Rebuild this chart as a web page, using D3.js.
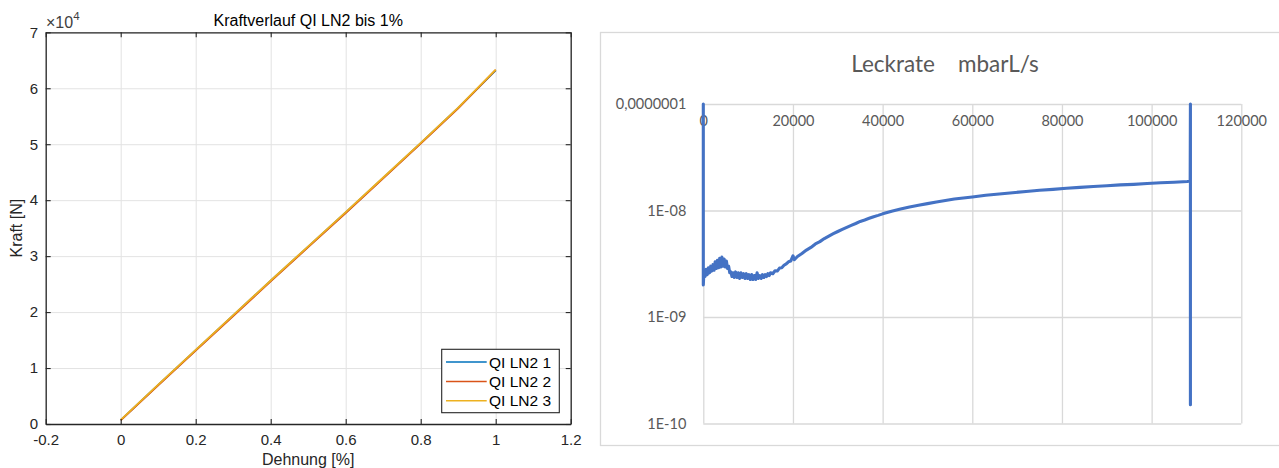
<!DOCTYPE html>
<html><head><meta charset="utf-8">
<script src="https://cdn.jsdelivr.net/npm/d3@7"></script>
<style>body{margin:0;background:#fff;} svg{display:block;}</style>
</head><body>
<svg id="c" width="1279" height="468"></svg>
<script>
// ---------- Left chart data (MATLAB) ----------
const strain = [0, 0.1, 0.2, 0.3, 0.4, 0.5, 0.6, 0.7, 0.8, 0.9, 1.0];
const forceQI1 = [700, 7000, 13200, 19400, 25600, 31700, 37800, 44000, 50200, 56500, 63200];
const forceQI2 = [650, 6900, 13100, 19300, 25500, 31600, 37700, 43900, 50100, 56400, 63300];
const forceQI3 = [750, 7050, 13250, 19450, 25650, 31750, 37850, 44050, 50250, 56550, 63350];
const seriesNames = ["QI LN2 1", "QI LN2 2", "QI LN2 3"];
const leftXTicks = [-0.2, 0, 0.2, 0.4, 0.6, 0.8, 1.0, 1.2];
const leftXTickLabels = ["-0.2", "0", "0.2", "0.4", "0.6", "0.8", "1", "1.2"];
const leftYTicks = [0, 10000, 20000, 30000, 40000, 50000, 60000, 70000];
const leftYTickLabels = ["0", "1", "2", "3", "4", "5", "6", "7"];

// ---------- Right chart data (Excel) ----------
const leakPoints = [
 [0,1e-7],[0,2.0e-9],[150,2.7e-9],[400,2.4e-9],[650,2.8e-9],[900,2.5e-9],[1150,2.9e-9],[1400,2.6e-9],
 [1650,3.0e-9],[1900,2.7e-9],[2150,3.1e-9],[2400,2.75e-9],[2650,3.3e-9],[2900,2.85e-9],[3150,3.4e-9],
 [3400,2.9e-9],[3650,3.55e-9],[3900,2.95e-9],[4150,3.65e-9],[4400,3.0e-9],[4650,3.5e-9],[4900,2.95e-9],
 [5150,3.35e-9],[5400,2.85e-9],[5650,3.0e-9],[5900,2.6e-9],[6150,2.65e-9],[6400,2.4e-9],[6650,2.6e-9],
 [6900,2.35e-9],[7200,2.65e-9],[7500,2.35e-9],[7800,2.6e-9],[8100,2.3e-9],[8400,2.6e-9],[8700,2.35e-9],
 [9000,2.55e-9],[9300,2.3e-9],[9600,2.55e-9],[9900,2.3e-9],[10200,2.5e-9],[10500,2.25e-9],[10800,2.5e-9],
 [11100,2.25e-9],[11400,2.45e-9],[11700,2.25e-9],[12000,2.6e-9],[12300,2.3e-9],[12600,2.45e-9],
 [12900,2.3e-9],[13200,2.5e-9],[13500,2.35e-9],[13800,2.5e-9],[14100,2.4e-9],[14400,2.55e-9],
 [14700,2.45e-9],[15000,2.6e-9],[15500,2.55e-9],[16000,2.72e-9],[16500,2.7e-9],[17000,2.88e-9],
 [17500,2.9e-9],[18000,3.06e-9],[18500,3.15e-9],[19000,3.3e-9],[19500,3.35e-9],[20000,3.75e-9],
 [20300,3.45e-9],[21000,3.7e-9],[22000,3.95e-9],[23000,4.25e-9],[24000,4.5e-9],[25000,4.85e-9],
 [26000,5.1e-9],[27000,5.45e-9],[28000,5.75e-9],[29000,6.05e-9],[30000,6.35e-9],[31000,6.65e-9],
 [32000,6.95e-9],[33000,7.25e-9],[34000,7.55e-9],[35000,7.9e-9],[36000,8.15e-9],[37000,8.45e-9],
 [38000,8.75e-9],[39000,9.0e-9],[40000,9.3e-9],[42000,9.85e-9],[44000,1.035e-8],[46000,1.08e-8],
 [48000,1.12e-8],[50000,1.16e-8],[52000,1.2e-8],[54000,1.24e-8],[56000,1.28e-8],[58000,1.31e-8],
 [60000,1.34e-8],[63000,1.39e-8],[66000,1.43e-8],[69000,1.47e-8],[72000,1.51e-8],[75000,1.55e-8],
 [78000,1.58e-8],[81000,1.62e-8],[84000,1.65e-8],[87000,1.68e-8],[90000,1.71e-8],[93000,1.74e-8],
 [96000,1.76e-8],[99000,1.79e-8],[102000,1.82e-8],[105000,1.84e-8],[108000,1.87e-8],[108600,1.9e-8],
 [108650,1e-7],[108650,1.5e-10]
];
const rightXTicks = [0, 20000, 40000, 60000, 80000, 100000, 120000];
const rightXTickLabels = ["0", "20000", "40000", "60000", "80000", "100000", "120000"];
const rightYTicks = [1e-10, 1e-9, 1e-8, 1e-7];
const rightYTickLabels = ["1E-10", "1E-09", "1E-08", "0,0000001"];

// ---------- Drawing ----------
const svg = d3.select("#c");
const matFont = "'Liberation Sans', Arial, sans-serif";
const xlFont = "Lato, 'Open Sans', sans-serif";

// Left chart
const L = {x0: 45.7, x1: 570.7, y0: 424, y1: 32.3};
const xL = d3.scaleLinear().domain([-0.2, 1.2]).range([L.x0, L.x1]);
const yL = d3.scaleLinear().domain([0, 70000]).range([L.y0, L.y1]);
const gL = svg.append("g");

// grid
gL.append("g").attr("transform", `translate(0,${L.y0})`)
  .call(d3.axisBottom(xL).tickValues(leftXTicks).tickFormat("").tickSize(-(L.y0 - L.y1)))
  .call(g => { g.select(".domain").remove(); g.selectAll("line").attr("stroke", "#e3e3e3").attr("stroke-width", 1); });
gL.append("g").attr("transform", `translate(${L.x0},0)`)
  .call(d3.axisLeft(yL).tickValues(leftYTicks).tickFormat("").tickSize(-(L.x1 - L.x0)))
  .call(g => { g.select(".domain").remove(); g.selectAll("line").attr("stroke", "#e3e3e3").attr("stroke-width", 1); });

// lines
const colors = ["#0072BD", "#D95319", "#EDB120"];
const forceSeries = [forceQI1, forceQI2, forceQI3];
const lineL = d3.line().x(d => xL(d[0])).y(d => yL(d[1]));
forceSeries.forEach((s, i) => {
  gL.append("path").datum(strain.map((x, j) => [x, s[j]]))
    .attr("d", lineL).attr("fill", "none").attr("stroke", colors[i]).attr("stroke-width", 1.8);
});

function styleAxis(g) {
  g.select(".domain").attr("stroke", "#262626").attr("stroke-width", 1.3);
  g.selectAll(".tick line").attr("stroke", "#262626").attr("stroke-width", 1.1);
  g.selectAll("text").attr("fill", "#262626").attr("font-family", matFont).attr("font-size", 15);
}
gL.append("g").attr("transform", `translate(0,${L.y0})`)
  .call(d3.axisBottom(xL).tickValues(leftXTicks).tickFormat((d, i) => leftXTickLabels[i]).tickSize(-5).tickSizeOuter(0).tickPadding(10))
  .call(styleAxis);
gL.append("g").attr("transform", `translate(0,${L.y1})`)
  .call(d3.axisTop(xL).tickValues(leftXTicks).tickFormat("").tickSize(-5).tickSizeOuter(0))
  .call(styleAxis);
gL.append("g").attr("transform", `translate(${L.x0},0)`)
  .call(d3.axisLeft(yL).tickValues(leftYTicks).tickFormat((d, i) => leftYTickLabels[i]).tickSize(-5).tickSizeOuter(0).tickPadding(7.5))
  .call(styleAxis);
gL.append("g").attr("transform", `translate(${L.x1},0)`)
  .call(d3.axisRight(yL).tickValues(leftYTicks).tickFormat("").tickSize(-5).tickSizeOuter(0))
  .call(styleAxis);

// exponent
const ex = gL.append("text").attr("x", 46).attr("y", 28).attr("font-family", matFont)
  .attr("font-size", 16).attr("fill", "#404040");
ex.append("tspan").text("×10");
ex.append("tspan").attr("font-size", 11.5).attr("dy", -8).text("4");

// title & labels
gL.append("text").attr("x", (L.x0 + L.x1) / 2).attr("y", 26).attr("text-anchor", "middle")
  .attr("font-family", matFont).attr("font-size", 16).attr("fill", "#000").text("Kraftverlauf QI LN2 bis 1%");
gL.append("text").attr("x", (L.x0 + L.x1) / 2).attr("y", 465).attr("text-anchor", "middle")
  .attr("font-family", matFont).attr("font-size", 16).attr("fill", "#262626").text("Dehnung [%]");
gL.append("text").attr("transform", `translate(22,${(L.y0 + L.y1) / 2}) rotate(-90)`).attr("text-anchor", "middle")
  .attr("font-family", matFont).attr("font-size", 16).attr("fill", "#262626").text("Kraft [N]");

// legend
const lg = gL.append("g");
lg.append("rect").attr("x", 441.7).attr("y", 349.3).attr("width", 117.6).attr("height", 63.4)
  .attr("fill", "#fff").attr("stroke", "#262626").attr("stroke-width", 1.1);
const rowsY = [362, 381.5, 400.7];
seriesNames.forEach((n, i) => {
  lg.append("line").attr("x1", 446).attr("x2", 486.7).attr("y1", rowsY[i]).attr("y2", rowsY[i])
    .attr("stroke", colors[i]).attr("stroke-width", 1.5);
  lg.append("text").attr("x", 489).attr("y", rowsY[i]).attr("dy", "0.36em")
    .attr("font-family", matFont).attr("font-size", 15.5).attr("fill", "#000").text(n);
});

// Right chart
const R = {x0: 703.3, x1: 1241.3, y0: 423.5, y1: 104};
const xR = d3.scaleLinear().domain([0, 120000]).range([R.x0, R.x1]);
const yR = d3.scaleLog().domain([1e-10, 1e-7]).range([R.y0, R.y1]);
const gR = svg.append("g");
gR.append("rect").attr("x", 600.5).attr("y", 32.5).attr("width", 720).attr("height", 413)
  .attr("fill", "#fff").attr("stroke", "#d9d9d9").attr("stroke-width", 1.3);

gR.append("g").attr("transform", `translate(0,${R.y0})`)
  .call(d3.axisBottom(xR).tickValues(rightXTicks).tickFormat("").tickSize(-(R.y0 - R.y1)))
  .call(g => { g.select(".domain").remove(); g.selectAll("line").attr("stroke", "#d9d9d9").attr("stroke-width", 1.3); });
gR.append("g").attr("transform", `translate(${R.x0},0)`)
  .call(d3.axisLeft(yR).tickValues(rightYTicks).tickFormat("").tickSize(-(R.x1 - R.x0)))
  .call(g => { g.select(".domain").remove(); g.selectAll("line").attr("stroke", "#d9d9d9").attr("stroke-width", 1.3); });

// x labels (at top)
gR.append("g").attr("transform", `translate(0,${R.y1})`)
  .call(d3.axisBottom(xR).tickValues(rightXTicks).tickFormat((d, i) => rightXTickLabels[i]).tickSize(0).tickPadding(12))
  .call(g => { g.select(".domain").remove();
    g.selectAll("text").attr("fill", "#595959").attr("font-family", xlFont).attr("font-size", 14.5); });
// y labels
gR.append("g").attr("transform", `translate(${R.x0},0)`)
  .call(d3.axisLeft(yR).tickValues(rightYTicks).tickFormat((d, i) => rightYTickLabels[i]).tickSize(0).tickPadding(17))
  .call(g => { g.select(".domain").remove();
    g.selectAll("text").attr("fill", "#595959").attr("font-family", xlFont).attr("font-size", 14.5); });

const lineR = d3.line().x(d => xR(d[0])).y(d => yR(d[1]));
gR.append("path").datum(leakPoints).attr("d", lineR).attr("fill", "none")
  .attr("stroke", "#4472C4").attr("stroke-width", 3.1).attr("stroke-linejoin", "round").attr("stroke-linecap", "round");

gR.append("text").attr("x", 945).attr("y", 72).attr("text-anchor", "middle")
  .attr("font-family", xlFont).attr("font-size", 22.5).attr("fill", "#595959")
  .style("white-space", "pre").text("Leckrate    mbarL/s");
</script>
</body></html>
